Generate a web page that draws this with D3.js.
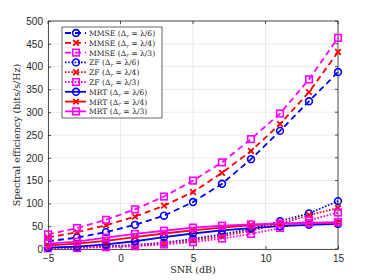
<!DOCTYPE html>
<html>
<head>
<meta charset="utf-8">
<script src="https://cdn.jsdelivr.net/npm/d3@7"></script>
<style>
  body { margin: 0; background: #fff; }
  svg { display: block; }
</style>
</head>
<body>
<div id="chart"></div>
<script>
// snr points (dB)
const snr = [-5, -3, -1, 1, 3, 5, 7, 9, 11, 13, 15];

// spectral efficiency (bits/s/Hz)
const mmse6 = [17, 25, 37, 53, 73, 103, 143, 197, 259, 324, 388];
const mmse4 = [25, 37, 52, 71, 95, 125, 167, 215, 274, 344, 432];
const mmse3 = [32, 46, 64, 87, 115, 150, 190, 241, 297, 372, 463];
const zf6 = [3, 4, 6, 9, 14, 22, 32, 44, 61, 78, 105];
const zf4 = [2, 3, 5, 7, 12, 19, 28, 40, 55, 74, 90];
const zf3 = [1.5, 2, 4, 6, 10, 15, 23, 33, 46, 63, 80];
const mrt6 = [3, 5, 10, 17, 26, 34, 41, 46, 50, 53, 55];
const mrt4 = [8, 12, 18, 26, 34, 41, 47, 52, 55, 57, 58];
const mrt3 = [12, 16, 25, 33, 40, 47, 51, 54, 56, 57, 59];

const xTicks = [-5, 0, 5, 10, 15];
const yTicks = [0, 50, 100, 150, 200, 250, 300, 350, 400, 450, 500];

const seriesNames = ["MMSE", "MMSE", "MMSE", "ZF", "ZF", "ZF", "MRT", "MRT", "MRT"];
const spacings = ["\u03bb/6", "\u03bb/4", "\u03bb/3", "\u03bb/6", "\u03bb/4", "\u03bb/3", "\u03bb/6", "\u03bb/4", "\u03bb/3"];
const seriesData = [mmse6, mmse4, mmse3, zf6, zf4, zf3, mrt6, mrt4, mrt3];

let width = 374,
  height = 280;
let margin = { left: 48, right: 36, top: 21, bottom: 31 };

let colors = ["#0000ff", "#ff0000", "#ff00ff"];
let dashes = { MMSE: "6,4", ZF: "1.6,1.6", MRT: null };
let markers = ["circle", "x", "square"];

let svg = d3
  .select("#chart")
  .append("svg")
  .attr("width", width)
  .attr("height", height);

let x = d3
  .scaleLinear()
  .domain([-5, 15])
  .range([margin.left, width - margin.right]);
let y = d3
  .scaleLinear()
  .domain([0, 500])
  .range([height - margin.bottom, margin.top]);

// grid
svg
  .append("g")
  .selectAll("line")
  .data(xTicks)
  .join("line")
  .attr("x1", (d) => x(d))
  .attr("x2", (d) => x(d))
  .attr("y1", y(0))
  .attr("y2", y(500))
  .attr("stroke", "#e6e6e6")
  .attr("stroke-width", 0.8);
svg
  .append("g")
  .selectAll("line")
  .data(yTicks)
  .join("line")
  .attr("x1", x(-5))
  .attr("x2", x(15))
  .attr("y1", (d) => y(d))
  .attr("y2", (d) => y(d))
  .attr("stroke", "#e6e6e6")
  .attr("stroke-width", 0.8);

// axes
let xAxis = svg
  .append("g")
  .attr("transform", `translate(0,${y(0)})`)
  .call(d3.axisBottom(x).tickValues(xTicks).tickSize(-3).tickSizeOuter(0).tickPadding(6));
let yAxis = svg
  .append("g")
  .attr("transform", `translate(${x(-5)},0)`)
  .call(d3.axisLeft(y).tickValues(yTicks).tickSize(-3).tickSizeOuter(0).tickPadding(5));
[xAxis, yAxis].forEach((a) => {
  a.select(".domain").attr("stroke", "#262626").attr("stroke-width", 0.8);
  a.selectAll(".tick line").attr("stroke", "#262626").attr("stroke-width", 0.8);
  a.selectAll(".tick text")
    .attr("fill", "#262626")
    .style("font-family", "Liberation Sans, Arial, sans-serif")
    .style("font-size", "10px");
});
// top and right box edges with ticks
svg
  .append("line")
  .attr("x1", x(-5))
  .attr("x2", x(15))
  .attr("y1", y(500))
  .attr("y2", y(500))
  .attr("stroke", "#262626")
  .attr("stroke-width", 0.8);
svg
  .append("line")
  .attr("x1", x(15))
  .attr("x2", x(15))
  .attr("y1", y(500))
  .attr("y2", y(0))
  .attr("stroke", "#262626")
  .attr("stroke-width", 0.8);
svg
  .append("g")
  .selectAll("line")
  .data(xTicks)
  .join("line")
  .attr("x1", (d) => x(d))
  .attr("x2", (d) => x(d))
  .attr("y1", y(500))
  .attr("y2", y(500) + 3)
  .attr("stroke", "#262626")
  .attr("stroke-width", 0.8);
svg
  .append("g")
  .selectAll("line")
  .data(yTicks)
  .join("line")
  .attr("x1", x(15))
  .attr("x2", x(15) - 3)
  .attr("y1", (d) => y(d))
  .attr("y2", (d) => y(d))
  .attr("stroke", "#262626")
  .attr("stroke-width", 0.8);

// axis labels
svg
  .append("text")
  .attr("x", x(5))
  .attr("y", 273)
  .attr("text-anchor", "middle")
  .style("font-family", "DejaVu Serif, serif")
  .style("font-size", "9.5px")
  .attr("fill", "#262626")
  .text("SNR (dB)");
svg
  .append("text")
  .attr("transform", `translate(20,${(y(0) + y(500)) / 2}) rotate(-90)`)
  .attr("text-anchor", "middle")
  .style("font-family", "DejaVu Serif, serif")
  .style("font-size", "9.5px")
  .attr("fill", "#262626")
  .text("Spectral efficiency (bits/s/Hz)");

function drawMarker(g, kind, color, cx, cy) {
  if (kind == "circle") {
    g.append("circle")
      .attr("cx", cx)
      .attr("cy", cy)
      .attr("r", 3.4)
      .attr("fill", "none")
      .attr("stroke", color)
      .attr("stroke-width", 1.6);
  } else if (kind == "square") {
    g.append("rect")
      .attr("x", cx - 3.3)
      .attr("y", cy - 3.3)
      .attr("width", 6.6)
      .attr("height", 6.6)
      .attr("fill", "none")
      .attr("stroke", color)
      .attr("stroke-width", 1.6);
  } else {
    g.append("path")
      .attr("d", `M${cx - 2.8},${cy - 2.8}L${cx + 2.8},${cy + 2.8}M${cx - 2.8},${cy + 2.8}L${cx + 2.8},${cy - 2.8}`)
      .attr("stroke", color)
      .attr("stroke-width", 1.8);
  }
}

let line = d3
  .line()
  .x((d, i) => x(snr[i]))
  .y((d) => y(d));

// plot series (draw MRT/ZF first so MMSE sits on top like the original)
let plot = svg.append("g");
seriesData.forEach((vals, k) => {
  let c = colors[k % 3];
  let g = plot.append("g");
  g.append("path")
    .datum(vals)
    .attr("d", line)
    .attr("fill", "none")
    .attr("stroke", c)
    .attr("stroke-width", 1.8)
    .attr("stroke-dasharray", dashes[seriesNames[k]]);
  vals.forEach((v, i) => drawMarker(g, markers[k % 3], c, x(snr[i]), y(v)));
});

// legend
let lg = svg.append("g");
let lx = 62,
  ly = 27,
  rowH = 9.8;
lg.append("rect")
  .attr("x", lx)
  .attr("y", ly)
  .attr("width", 100)
  .attr("height", 91)
  .attr("fill", "#fff")
  .attr("stroke", "#262626")
  .attr("stroke-width", 0.7);
seriesNames.forEach((name, k) => {
  let cy = ly + 6 + k * rowH;
  let c = colors[k % 3];
  lg.append("line")
    .attr("x1", lx + 3)
    .attr("x2", lx + 24)
    .attr("y1", cy)
    .attr("y2", cy)
    .attr("stroke", c)
    .attr("stroke-width", 1.8)
    .attr("stroke-dasharray", dashes[name]);
  drawMarker(lg, markers[k % 3], c, lx + 14, cy);
  let t = lg
    .append("text")
    .attr("x", lx + 27)
    .attr("y", cy + 3)
    .style("font-family", "DejaVu Serif, serif")
    .style("font-size", "7.6px")
    .attr("fill", "#262626");
  t.append("tspan").text(name + " (\u0394");
  t.append("tspan").attr("dy", 1.8).style("font-size", "5.5px").style("font-style", "italic").text("r");
  t.append("tspan").attr("dy", -1.8).text(" = " + spacings[k] + ")");
});
</script>
</body>
</html>
